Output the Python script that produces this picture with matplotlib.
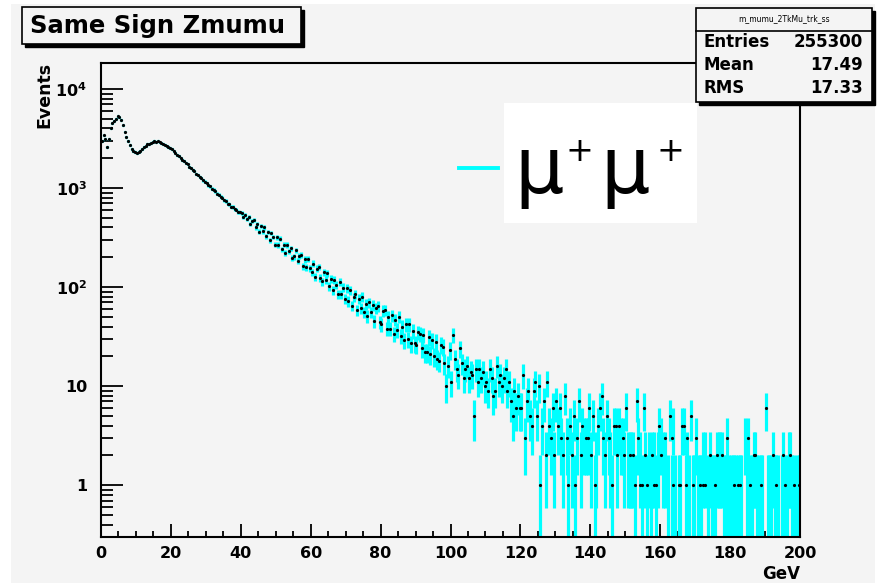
import numpy as np
import matplotlib
matplotlib.use("Agg")
import matplotlib.pyplot as plt
from matplotlib.patches import Rectangle
from matplotlib.lines import Line2D
from matplotlib.ticker import FixedLocator, MultipleLocator, LogLocator, NullFormatter

plt.rcParams['font.family'] = ['DejaVu Sans']
plt.rcParams['mathtext.fontset'] = 'dejavusans'

# ---------------- data (0.5 GeV bins, 0-200 GeV) ----------------
bin_width = 0.5
x_range = (0.0, 200.0)
# bins shared by both drawn series (0-120 GeV)
counts_000_020 = [3000, 3400, 3100, 2600, 3100, 4000, 4500, 4800, 5000, 5300, 5200, 4900, 4300, 3700, 3300, 3000, 2700, 2500, 2380, 2300,
                  2240, 2290, 2390, 2490, 2610, 2660, 2760, 2810, 2880, 2910, 2990, 2950, 2960, 2890, 2870, 2790, 2750, 2670, 2610, 2510]
counts_020_040 = [2462, 2349, 2281, 2170, 2089, 2030, 1921, 1866, 1779, 1731, 1640, 1596, 1513, 1480, 1398, 1360, 1291, 1262, 1195, 1160,
                  1121, 1064, 1040, 985, 962, 931, 876, 859, 815, 800, 754, 741, 698, 687, 650, 644, 611, 607, 574, 569]
counts_040_060 = [562, 508, 539, 487, 511, 434, 462, 474, 400, 430, 364, 415, 365, 400, 325, 359, 299, 351, 321, 269,
                  319, 267, 308, 240, 269, 221, 267, 229, 247, 198, 204, 235, 184, 208, 211, 162, 190, 159, 192, 156]
counts_060_080 = [142, 173, 127, 153, 160, 124, 114, 141, 118, 138, 102, 122, 93, 118, 105, 85, 112, 85, 99, 76,
                  97, 72, 93, 65, 79, 85, 59, 76, 61, 80, 56, 67, 51, 70, 56, 66, 45, 61, 64, 44]
counts_080_100 = [42, 58, 59, 38, 50, 38, 52, 34, 47, 37, 50, 32, 40, 29, 42, 30, 42, 27, 36, 27,
                  26, 35, 34, 24, 33, 22, 22, 31, 21, 29, 20, 28, 19, 18, 26, 25, 17, 10, 16, 23]
counts_100_120 = [11, 33, 19, 15, 13, 24, 17, 12, 15, 16, 12, 14, 13, 5, 15, 11, 15, 12, 14, 10,
                  11, 9, 15, 12, 8, 9, 16, 11, 13, 10, 12, 15, 9, 11, 7, 5, 9, 6, 8, 6]
# tail of the cyan error-bar series (120-200 GeV)
cyan_120_160 = [6, 13, 3, 7, 9, 5, 4, 9, 11, 5, 10, 1, 4, 7, 2, 11, 4, 3, 6, 2,
                7, 4, 6, 3, 2, 8, 3, 1, 4, 2, 5, 1, 3, 7, 2, 4, 3, 3, 3, 6,
                2, 5, 1, 2, 4, 6, 8, 3, 2, 5, 3, 2, 1, 4, 4, 2, 4, 3, 3, 2,
                6, 2, 2, 2, 2, 1, 7, 3, 2, 1, 6, 2, 1, 2, 1, 2, 2, 1, 2, 4]
cyan_160_200 = [3, 2, 2, 0, 1, 5, 1, 4, 1, 0, 1, 1, 4, 4, 1, 2, 1, 5, 1, 1,
                3, 1, 1, 1, 2, 2, 0, 1, 2, 1, 1, 1, 2, 2, 2, 2, 1, 1, 3, 1,
                1, 1, 1, 1, 1, 1, 1, 0, 3, 1, 3, 1, 1, 2, 2, 1, 1, 1, 1, 0,
                6, 1, 1, 1, 2, 1, 1, 1, 0, 1, 2, 1, 1, 2, 2, 1, 1, 0, 1, 1]
# tail of the black point series (120-200 GeV)
black_120_160 = [6, 13, 3, 7, 9, 5, 4, 9, 11, 5, 10, 1, 4, 7, 2, 11, 4, 3, 6, 2,
                 7, 4, 6, 3, 2, 8, 3, 1, 4, 2, 5, 1, 3, 7, 2, 4, 0, 3, 3, 6,
                 2, 5, 1, 0, 4, 6, 8, 3, 2, 5, 3, 0, 1, 4, 4, 2, 4, 0, 3, 2,
                 6, 0, 2, 0, 2, 1, 7, 3, 1, 1, 6, 2, 1, 0, 0, 2, 1, 1, 0, 4]
black_160_200 = [2, 0, 3, 0, 0, 5, 3, 1, 0, 0, 1, 1, 4, 4, 1, 3, 0, 5, 1, 0,
                 3, 0, 1, 0, 1, 1, 0, 0, 2, 0, 0, 1, 2, 0, 0, 2, 0, 0, 3, 0,
                 0, 0, 1, 0, 1, 1, 0, 0, 0, 0, 3, 1, 0, 2, 2, 0, 0, 1, 0, 0,
                 6, 0, 0, 0, 2, 0, 1, 0, 0, 0, 2, 1, 0, 0, 2, 0, 1, 0, 0, 1]

title_text = "Same Sign Zmumu"
hist_name = "m_mumu_2TkMu_trk_ss"
stats_labels = ["Entries", "Mean", "RMS"]
stats_values = ["255300", "17.49", "17.33"]
y_tick_values = [1, 10, 100, 1000, 10000]
y_tick_labels = ["1", "10", r"$\mathbf{10^{2}}$", r"$\mathbf{10^{3}}$", r"$\mathbf{10^{4}}$"]
x_label = "GeV"
y_label = "Events"
legend_label_mu = "\u03bc"

shared = (counts_000_020 + counts_020_040 + counts_040_060 + counts_060_080 +
          counts_080_100 + counts_100_120)
cyan_counts = np.array(shared + cyan_120_160 + cyan_160_200, dtype=float)
black_counts = np.array(shared + black_120_160 + black_160_200, dtype=float)
edges = np.arange(x_range[0], x_range[1] + bin_width / 2, bin_width)
centers = 0.5 * (edges[:-1] + edges[1:])

# ---------------- figure ----------------
W, H = 880, 583
fig = plt.figure(figsize=(W / 100, H / 100), dpi=100, facecolor='white')

def fx(x):
    return x / W

def fy(y):
    return 1 - y / H

GRAY = '#f4f4f4'
CYAN = '#00ffff'
fig.patches.append(Rectangle((fx(11), 0), fx(875) - fx(11), fy(4), transform=fig.transFigure,
                             facecolor=GRAY, edgecolor='none', zorder=-10))

ax = fig.add_axes([fx(101), fy(537), fx(800) - fx(101), fy(63) - fy(537)])
ax.set_facecolor(GRAY)
ax.set_yscale('log')
ax.set_xlim(*x_range)
ax.set_ylim(0.30, 1.83e4)

mc = cyan_counts > 0
yc = cyan_counts[mc]
err = np.sqrt(yc)
lo = np.minimum(err, yc - 1e-4)
ax.errorbar(centers[mc], yc, yerr=[lo, err], xerr=bin_width / 2, fmt='none', ecolor=CYAN,
            elinewidth=2.3, capsize=0, zorder=2)
mb = black_counts > 0
ax.plot(centers[mb], black_counts[mb], 'o', ms=2.3, color='black', mec='black', mew=0, zorder=3)

for s in ax.spines.values():
    s.set_linewidth(1.5)
    s.set_color('black')

ax.yaxis.set_major_locator(FixedLocator(y_tick_values))
ax.set_yticklabels(y_tick_labels)
ax.yaxis.set_minor_locator(LogLocator(base=10, subs=np.arange(2, 10)))
ax.yaxis.set_minor_formatter(NullFormatter())
ax.xaxis.set_major_locator(MultipleLocator(20))
ax.xaxis.set_minor_locator(MultipleLocator(5))

ax.tick_params(axis='y', which='major', direction='in', length=15.8, width=1.3, pad=10,
               labelsize=11.5, left=True, right=False)
ax.tick_params(axis='y', which='minor', direction='in', length=8.6, width=1.3, left=True, right=False)
ax.tick_params(axis='x', which='major', direction='in', length=9.4, width=1.3, pad=6.5,
               labelsize=11.5, bottom=True, top=False)
ax.tick_params(axis='x', which='minor', direction='in', length=4.3, width=1.3, bottom=True, top=False)
for lab in ax.get_xticklabels() + ax.get_yticklabels():
    lab.set_fontweight('bold')

# axis titles
fig.text(fx(800), fy(574), x_label, ha='right', va='center', fontsize=12, fontweight='bold')
fig.text(fx(44), fy(62), y_label, ha='center', va='top', rotation=90, fontsize=12.5, fontweight='bold')

# title box with shadow
fig.patches.append(Rectangle((fx(25), fy(47)), fx(301) - fx(22), fy(7) - fy(44), transform=fig.transFigure,
                             facecolor='black', edgecolor='black', zorder=5))
fig.patches.append(Rectangle((fx(22), fy(44)), fx(301) - fx(22), fy(7) - fy(44), transform=fig.transFigure,
                             facecolor=GRAY, edgecolor='black', linewidth=1.2, zorder=6))
fig.text(fx(30), fy(26), title_text, ha='left', va='center', fontsize=17.5, fontweight='bold', zorder=7)

# stats box with shadow
fig.patches.append(Rectangle((fx(699), fy(105)), fx(872) - fx(696), fy(8) - fy(102), transform=fig.transFigure,
                             facecolor='black', edgecolor='black', zorder=5))
fig.patches.append(Rectangle((fx(696), fy(102)), fx(872) - fx(696), fy(8) - fy(102), transform=fig.transFigure,
                             facecolor=GRAY, edgecolor='black', linewidth=1.2, zorder=6))
fig.lines.append(Line2D([fx(696), fx(872)], [fy(31), fy(31)], transform=fig.transFigure,
                        color='black', linewidth=1.2, zorder=7))
fig.text(fx(784), fy(19), hist_name, ha='center', va='center', fontsize=5.5, zorder=7)
for i, (lab, val) in enumerate(zip(stats_labels, stats_values)):
    yy = 42 + 23 * i
    fig.text(fx(703), fy(yy), lab, ha='left', va='center', fontsize=12, fontweight='bold', zorder=7)
    fig.text(fx(863), fy(yy), val, ha='right', va='center', fontsize=12, fontweight='bold', zorder=7)

# legend (white box, cyan line, mu+mu+)
fig.patches.append(Rectangle((fx(504), fy(223)), fx(697) - fx(504), fy(103) - fy(223), transform=fig.transFigure,
                             facecolor='white', edgecolor='none', zorder=8))
fig.lines.append(Line2D([fx(459), fx(498)], [fy(168), fy(168)], transform=fig.transFigure,
                        color=CYAN, linewidth=2.8, zorder=9))
fig.text(fx(514), fy(193), legend_label_mu, ha='left', va='baseline', fontsize=56, zorder=9)
fig.text(fx(579), fy(161), "+", ha='center', va='baseline', fontsize=24, zorder=9)
fig.text(fx(600), fy(193), legend_label_mu, ha='left', va='baseline', fontsize=56, zorder=9)
fig.text(fx(670), fy(161), "+", ha='center', va='baseline', fontsize=24, zorder=9)

fig.savefig("out.png", dpi=100, facecolor='white')
